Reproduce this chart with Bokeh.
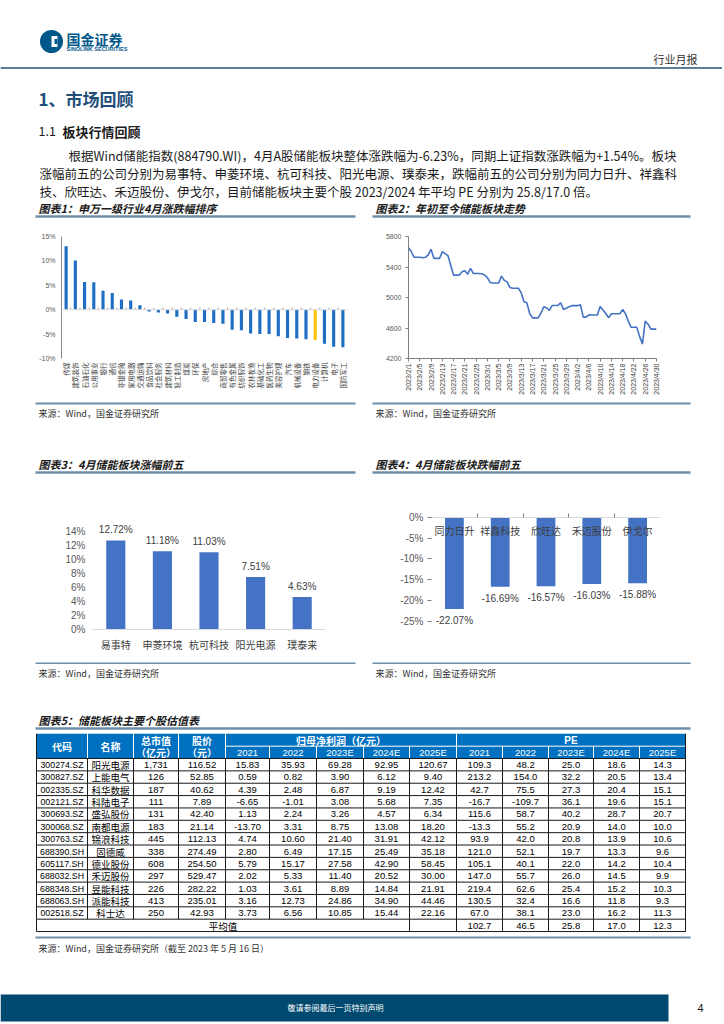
import math
import pandas as pd
from bokeh.plotting import figure
from bokeh.models import Range1d, FixedTicker, ColumnDataSource, Span
from bokeh.layouts import column, row
from bokeh.core.properties import value
from bokeh.embed import file_html
from bokeh.resources import INLINE

CJK = "Noto Sans CJK SC"
LAT = "Liberation Sans"

# ---------------- data ----------------
sw_industries = ["传媒", "建筑装饰", "石油石化", "公用事业", "银行", "通信", "非银金融", "家用电器",
                 "交通运输", "食品饮料", "社会服务", "建筑材料", "轻工制造", "煤炭", "环保", "房地产",
                 "综合", "商贸零售", "有色金属", "纺织服饰", "农林牧渔", "基础化工", "医药生物", "美容护理",
                 "汽车", "机械设备", "钢铁", "电力设备", "计算机", "电子", "国防军工"]
sw_returns = [13.0, 10.1, 5.7, 5.6, 3.9, 3.4, 2.1, 1.9, 0.9, -0.36, -0.55, -0.8, -1.45, -1.9, -2.5, -2.5,
              -2.7, -2.9, -4.1, -4.2, -4.9, -5.0, -5.0, -5.45, -5.8, -5.9, -6.05, -6.2, -7.0, -7.6, -7.7]
sw_highlight = "电力设备"

index_start = "2023-02-01"
index_end = "2023-04-30"
index_values = [5654, 5600, 5527, 5527, 5527, 5522, 5527, 5560, 5632, 5513, 5513, 5513, 5601, 5575, 5549,
                5420, 5293, 5293, 5293, 5337, 5350, 5306, 5381, 5315, 5315, 5315, 5312, 5295, 5260, 5196,
                5191, 5191, 5191, 5280, 5225, 5205, 5130, 5121, 5121, 5121, 5060, 4945, 4930, 4790, 4733,
                4733, 4733, 4795, 4878, 4865, 4830, 4896, 4896, 4896, 4931, 4843, 4860, 4880, 4893, 4893,
                4893, 4905, 4742, 4742, 4773, 4770, 4770, 4770, 4883, 4835, 4790, 4735, 4786, 4786, 4786,
                4786, 4843, 4785, 4690, 4609, 4609, 4609, 4490, 4389, 4690, 4650, 4585, 4585, 4585]
index_y_ticks = [4200, 4600, 5000, 5400, 5800]
date_tick_labels = ["2023/2/1", "2023/2/5", "2023/2/9", "2023/2/13", "2023/2/17", "2023/2/21", "2023/2/25",
                    "2023/3/1", "2023/3/5", "2023/3/9", "2023/3/13", "2023/3/17", "2023/3/21", "2023/3/25",
                    "2023/3/29", "2023/4/2", "2023/4/6", "2023/4/10", "2023/4/14", "2023/4/18", "2023/4/22",
                    "2023/4/26", "2023/4/30"]

top5_names = ["易事特", "申菱环境", "杭可科技", "阳光电源", "璞泰来"]
top5_pct = [12.72, 11.18, 11.03, 7.51, 4.63]
bottom5_names = ["同力日升", "祥鑫科技", "欣旺达", "禾迈股份", "伊戈尔"]
bottom5_pct = [-22.07, -16.69, -16.57, -16.03, -15.88]

codes = ["300274.SZ", "300827.SZ", "002335.SZ", "002121.SZ", "300693.SZ", "300068.SZ", "300763.SZ",
         "688390.SH", "605117.SH", "688032.SH", "688348.SH", "688063.SH", "002518.SZ"]
names = ["阳光电源", "上能电气", "科华数据", "科陆电子", "盛弘股份", "南都电源", "锦浪科技",
         "固德威", "德业股份", "禾迈股份", "昱能科技", "派能科技", "科士达"]
mkt_cap = ["1,731", "126", "187", "111", "131", "183", "445", "338", "608", "297", "226", "413", "250"]
price = ["116.52", "52.85", "40.62", "7.89", "42.40", "21.14", "112.13", "274.49", "254.50", "529.47",
         "282.22", "235.01", "42.93"]
np_2021 = ["15.83", "0.59", "4.39", "-6.65", "1.13", "-13.70", "4.74", "2.80", "5.79", "2.02", "1.03", "3.16", "3.73"]
np_2022 = ["35.93", "0.82", "2.48", "-1.01", "2.24", "3.31", "10.60", "6.49", "15.17", "5.33", "3.61", "12.73", "6.56"]
np_2023e = ["69.28", "3.90", "6.87", "3.08", "3.26", "8.75", "21.40", "17.15", "27.58", "11.40", "8.89", "24.86", "10.85"]
np_2024e = ["92.95", "6.12", "9.19", "5.68", "4.57", "13.08", "31.91", "25.49", "42.90", "20.52", "14.84", "34.90", "15.44"]
np_2025e = ["120.67", "9.40", "12.42", "7.35", "6.34", "18.20", "42.12", "35.18", "58.45", "30.00", "21.91", "44.46", "22.16"]
pe_2021 = ["109.3", "213.2", "42.7", "-16.7", "115.6", "-13.3", "93.9", "121.0", "105.1", "147.0", "219.4", "130.5", "67.0"]
pe_2022 = ["48.2", "154.0", "75.5", "-109.7", "58.7", "55.2", "42.0", "52.1", "40.1", "55.7", "62.6", "32.4", "38.1"]
pe_2023e = ["25.0", "32.2", "27.3", "36.1", "40.2", "20.9", "20.8", "19.7", "22.0", "26.0", "25.4", "16.6", "23.0"]
pe_2024e = ["18.6", "20.5", "20.4", "19.6", "28.7", "14.0", "13.9", "13.3", "14.2", "14.5", "15.2", "11.8", "16.2"]
pe_2025e = ["14.3", "13.4", "15.1", "15.1", "20.7", "10.0", "10.6", "9.6", "10.4", "9.9", "10.3", "9.3", "11.3"]
pe_average = ["102.7", "46.5", "25.8", "17.0", "12.3"]
year_labels = ["2021", "2022", "2023E", "2024E", "2025E"]

# ---------------- helpers ----------------
BLUE_LINE = "#6F8FA8"
PAGE_W = 722


def strip(y0, y1):
    p = figure(width=PAGE_W, height=y1 - y0, x_range=Range1d(0, PAGE_W), y_range=Range1d(y1, y0),
               x_axis_type=None, y_axis_type=None, toolbar_location=None, output_backend="svg",
               min_border=0)
    p.outline_line_color = None
    p.background_fill_color = "white"
    p.border_fill_color = "white"
    return p


def txt(p, x, y, s, size, color="#1a1a1a", font=CJK, align="left", baseline="middle", style="normal"):
    p.text(x=[x], y=[y], text=[s], text_font=value(font), text_font_size=size, text_color=color,
           text_align=align, text_baseline=baseline, text_font_style=style)


def hline(p, x0, x1, y, color=BLUE_LINE, width=2.0):
    p.line(x=[x0, x1], y=[y, y], line_color=color, line_width=width)


def chart_fig(w, h, xr, yr, l, r, t, b, **kw):
    p = figure(width=w, height=h, x_range=xr, y_range=yr, toolbar_location=None, output_backend="svg",
               min_border_left=l, min_border_right=r, min_border_top=t, min_border_bottom=b, **kw)
    p.outline_line_color = None
    p.xgrid.visible = False
    p.ygrid.visible = False
    p.axis.minor_tick_line_color = None
    p.axis.minor_tick_out = 0
    p.axis.minor_tick_in = 0
    return p


# ---------------- strip 1: header ----------------
s1 = strip(0, 222)
s1.scatter(x=[51], y=[41], size=23, fill_color="#00578A", line_color=None)
s1.rect(x=[54], y=[41], width=6, height=11, fill_color="white", line_color=None)
s1.rect(x=[55.5], y=[41], width=3, height=5, fill_color="#00578A", line_color=None)
txt(s1, 66, 38, "国金证券", "14px", color="#00578A", style="bold")
txt(s1, 66, 48.5, "SINOLINK SECURITIES", "5.5px", color="#00578A", font=LAT, style="bold")
txt(s1, 697, 58, "行业月报", "11px", color="#333333", align="right")
hline(s1, 0, PAGE_W, 67.5, color="#5B7D96", width=2)
txt(s1, 38, 98, "1、市场回顾", "17px", color="#1F4E79", style="bold")
txt(s1, 38, 130.5, "1.1", "12.5px", color="#1a1a1a")
txt(s1, 62, 130.5, "板块行情回顾", "13px", color="#1a1a1a", style="bold")
txt(s1, 68, 155, "根据Wind储能指数(884790.WI)，4月A股储能板块整体涨跌幅为-6.23%，同期上证指数涨跌幅为+1.54%。板块", "12.5px")
txt(s1, 39, 173, "涨幅前五的公司分别为易事特、申菱环境、杭可科技、阳光电源、璞泰来，跌幅前五的公司分别为同力日升、祥鑫科", "12.5px")
txt(s1, 39, 191, "技、欣旺达、禾迈股份、伊戈尔，目前储能板块主要个股 2023/2024 年平均 PE 分别为 25.8/17.0 倍。", "12.5px")
txt(s1, 38, 207, "图表1：申万一级行业4月涨跌幅排序", "11px", style="bold italic")
txt(s1, 375, 207, "图表2：年初至今储能板块走势", "11px", style="bold italic")
hline(s1, 35, 355, 216, width=2.5)
hline(s1, 372, 690, 216, width=2.5)

# ---------------- chart 1 ----------------
c1 = chart_fig(362, 178, Range1d(-0.5, len(sw_industries) - 0.5), Range1d(-10, 15), 61, 15, 6, 34)
idx = list(range(len(sw_industries)))
bar_colors = ["#FFC000" if n == sw_highlight else "#1E6FC4" for n in sw_industries]
c1.vbar(x="x", top="top", bottom=0, width=0.34, fill_color="c", line_color=None,
        source=ColumnDataSource(dict(x=idx, top=sw_returns, c=bar_colors)))
c1.add_layout(Span(location=0, dimension="width", line_color="#D9D9D9", line_width=1))
bounds = [i + 0.5 for i in idx[:-1]]
c1.segment(x0=bounds, y0=[0] * len(bounds), x1=bounds, y1=[0.45] * len(bounds), line_color="#A6A6A6", line_width=1)
c1.xaxis.ticker = FixedTicker(ticks=idx)
c1.xaxis.major_label_overrides = {i: n for i, n in enumerate(sw_industries)}
c1.xaxis.major_label_orientation = math.pi / 2
c1.xaxis.axis_line_color = None
c1.xaxis.major_tick_line_color = None
c1.xaxis.major_tick_out = 0
c1.xaxis.major_tick_in = 0
c1.xaxis.major_label_standoff = 4
c1.xaxis.major_label_text_font = CJK
c1.xaxis.major_label_text_font_size = "6.5px"
c1.xaxis.major_label_text_color = "#404040"
c1.yaxis.ticker = FixedTicker(ticks=[-10, -5, 0, 5, 10, 15])
c1.yaxis.major_label_overrides = {v: f"{v}%" for v in [-10, -5, 0, 5, 10, 15]}
c1.yaxis.axis_line_color = "#8C8C8C"
c1.yaxis.major_tick_line_color = None
c1.yaxis.major_tick_out = 0
c1.yaxis.major_tick_in = 0
c1.yaxis.major_label_standoff = 6
c1.yaxis.major_label_text_font = LAT
c1.yaxis.major_label_text_font_size = "7px"
c1.yaxis.major_label_text_color = "#595959"

# ---------------- chart 2 ----------------
dates = pd.date_range(index_start, index_end, freq="D")
day_offset = [(d - dates[0]).days for d in dates]
c2 = chart_fig(360, 178, Range1d(0, day_offset[-1]), Range1d(index_y_ticks[0], index_y_ticks[-1]), 46, 66, 14, 42)
c2.line(x=day_offset, y=index_values, line_color="#4472C4", line_width=1.6)
tick_days = day_offset[::4]
c2.xaxis.ticker = FixedTicker(ticks=tick_days)
c2.xaxis.major_label_overrides = {d: lab for d, lab in zip(tick_days, date_tick_labels)}
c2.xaxis.major_label_orientation = math.pi / 2
c2.xaxis.axis_line_color = "#7F7F7F"
c2.xaxis.major_tick_line_color = "#7F7F7F"
c2.xaxis.major_tick_in = 0
c2.xaxis.major_tick_out = 3
c2.xaxis.major_label_standoff = 2
c2.xaxis.major_label_text_font = LAT
c2.xaxis.major_label_text_font_size = "7px"
c2.xaxis.major_label_text_color = "#404040"
c2.yaxis.ticker = FixedTicker(ticks=index_y_ticks)
c2.yaxis.axis_line_color = "#7F7F7F"
c2.yaxis.major_tick_line_color = "#7F7F7F"
c2.yaxis.major_tick_in = 0
c2.yaxis.major_tick_out = 3
c2.yaxis.major_label_standoff = 4
c2.yaxis.major_label_text_font = LAT
c2.yaxis.major_label_text_font_size = "7px"
c2.yaxis.major_label_text_color = "#595959"

# ---------------- strip 2 ----------------
s2 = strip(400, 480)
hline(s2, 35, 355, 403, width=2)
hline(s2, 372, 690, 403, width=2)
txt(s2, 38, 413, "来源：Wind，国金证券研究所", "9px", color="#333333")
txt(s2, 375, 413, "来源：Wind，国金证券研究所", "9px", color="#333333")
txt(s2, 38, 463, "图表3：4月储能板块涨幅前五", "11px", style="bold italic")
txt(s2, 375, 463, "图表4：4月储能板块跌幅前五", "11px", style="bold italic")
hline(s2, 35, 355, 472, width=2.5)
hline(s2, 372, 690, 472, width=2.5)

# ---------------- chart 3 ----------------
x5 = list(range(len(top5_names)))
c3 = chart_fig(362, 182, Range1d(-0.5, 4.5), Range1d(0, 16), 92, 37, 22, 33)
c3.vbar(x=x5, top=top5_pct, bottom=0, width=0.41, fill_color="#4472C4", line_color=None)
c3.text(x=x5, y=top5_pct, text=[f"{v:.2f}%" for v in top5_pct], text_font=value(LAT), text_font_size="10px",
        text_color="#404040", text_align="center", text_baseline="bottom", y_offset=-5)
c3.xaxis.ticker = FixedTicker(ticks=x5)
c3.xaxis.major_label_overrides = {i: n for i, n in enumerate(top5_names)}
c3.xaxis.axis_line_color = "#D9D9D9"
c3.xaxis.major_tick_line_color = None
c3.xaxis.major_tick_out = 0
c3.xaxis.major_tick_in = 0
c3.xaxis.major_label_standoff = 7
c3.xaxis.major_label_text_font = CJK
c3.xaxis.major_label_text_font_size = "10px"
c3.xaxis.major_label_text_color = "#404040"
t3 = list(range(0, 15, 2))
c3.yaxis.ticker = FixedTicker(ticks=t3)
c3.yaxis.major_label_overrides = {v: f"{v}%" for v in t3}
c3.yaxis.axis_line_color = None
c3.yaxis.major_tick_line_color = None
c3.yaxis.major_tick_out = 0
c3.yaxis.major_tick_in = 0
c3.yaxis.major_label_standoff = 7
c3.yaxis.major_label_text_font = LAT
c3.yaxis.major_label_text_font_size = "10px"
c3.yaxis.major_label_text_color = "#595959"

# ---------------- chart 4 ----------------
c4 = chart_fig(360, 182, Range1d(-0.5, 4.5), Range1d(-27, 0), 69, 62, 37, 21, x_axis_location="above")
c4.vbar(x=x5, top=0, bottom=bottom5_pct, width=0.41, fill_color="#4472C4", line_color=None)
c4.text(x=x5, y=[0] * len(x5), text=bottom5_names, text_font=value(CJK), text_font_size="10px",
        text_color="#404040", text_align="center", text_baseline="middle", y_offset=13)
c4.text(x=x5, y=bottom5_pct, text=[f"{v:.2f}%" for v in bottom5_pct], text_font=value(LAT), text_font_size="10px",
        text_color="#404040", text_align="center", text_baseline="top", y_offset=6)
c4.xaxis.ticker = FixedTicker(ticks=[i + 0.5 for i in x5[:-1]])
c4.xaxis.major_label_text_font_size = "0px"
c4.xaxis.axis_line_color = "#D9D9D9"
c4.xaxis.major_tick_line_color = "#7F7F7F"
c4.xaxis.major_tick_in = 0
c4.xaxis.major_tick_out = 4
t4 = list(range(-25, 1, 5))
c4.yaxis.ticker = FixedTicker(ticks=t4)
c4.yaxis.major_label_overrides = {v: f"{v}%" for v in t4}
c4.yaxis.axis_line_color = None
c4.yaxis.major_tick_line_color = "#7F7F7F"
c4.yaxis.major_tick_in = 0
c4.yaxis.major_tick_out = 4
c4.yaxis.major_label_standoff = 4
c4.yaxis.major_label_text_font = LAT
c4.yaxis.major_label_text_font_size = "10px"
c4.yaxis.major_label_text_color = "#595959"

# ---------------- strip 3 ----------------
s3 = strip(480 + 182, 733)
hline(s3, 35, 355, 662.5, width=2)
hline(s3, 372, 690, 662.5, width=2)
txt(s3, 38, 673, "来源：Wind，国金证券研究所", "9px", color="#333333")
txt(s3, 375, 673, "来源：Wind，国金证券研究所", "9px", color="#333333")
txt(s3, 38, 719, "图表5：储能板块主要个股估值表", "11px", style="bold italic")
hline(s3, 35, 690, 728, width=2.5)

# ---------------- table ----------------
tb = strip(733, 1022)
col_edges = [36, 87, 133, 178, 225, 269, 316, 363, 409, 456, 502, 548, 593, 639, 685]
centers = [(a + b) / 2 for a, b in zip(col_edges[:-1], col_edges[1:])]
hdr_top, hdr_mid, hdr_bot = 733, 745.7, 758
row_h = 12.36
table_cols = [codes, names, mkt_cap, price, np_2021, np_2022, np_2023e, np_2024e, np_2025e,
              pe_2021, pe_2022, pe_2023e, pe_2024e, pe_2025e]
n_rows = len(codes)

tb.quad(left=[col_edges[0]], right=[col_edges[-1]], top=[hdr_top], bottom=[hdr_bot],
        fill_color="#0070C0", line_color=None)
full_seps = [87, 133, 178, 225, 456]
half_seps = [269, 316, 363, 409, 502, 548, 593, 639]
tb.segment(x0=full_seps, y0=[hdr_top] * len(full_seps), x1=full_seps, y1=[hdr_bot] * len(full_seps),
           line_color="white", line_width=1)
tb.segment(x0=half_seps, y0=[hdr_mid] * len(half_seps), x1=half_seps, y1=[hdr_bot] * len(half_seps),
           line_color="white", line_width=1)
tb.segment(x0=[225], y0=[hdr_mid], x1=[685], y1=[hdr_mid], line_color="white", line_width=1)

hdr_y1 = (hdr_top + hdr_mid) / 2 + 0.5
hdr_y2 = (hdr_mid + hdr_bot) / 2 + 0.3
txt(tb, centers[0], (hdr_top + hdr_bot) / 2, "代码", "10px", color="white", align="center", style="bold")
txt(tb, centers[1], (hdr_top + hdr_bot) / 2, "名称", "10px", color="white", align="center", style="bold")
txt(tb, centers[2], hdr_y1, "总市值", "10px", color="white", align="center", style="bold")
txt(tb, centers[2], hdr_y2, "（亿元）", "10px", color="white", align="center", style="bold")
txt(tb, centers[3], hdr_y1, "股价", "10px", color="white", align="center", style="bold")
txt(tb, centers[3], hdr_y2, "（元）", "10px", color="white", align="center", style="bold")
txt(tb, (225 + 456) / 2, hdr_y1, "归母净利润（亿元）", "10px", color="white", align="center", style="bold")
txt(tb, (456 + 685) / 2, hdr_y1, "PE", "10px", color="white", align="center", font=LAT, style="bold")
tb.text(x=centers[4:], y=[hdr_y2] * 10, text=year_labels * 2, text_font=value(LAT), text_font_size="9.5px",
        text_color="white", text_align="center", text_baseline="middle")

cx, cy, ct, cf, cs = [], [], [], [], []
for j, col in enumerate(table_cols):
    for i, v in enumerate(col):
        cx.append(centers[j])
        cy.append(hdr_bot + (i + 0.5) * row_h + 0.3)
        ct.append(v)
        cf.append(CJK if j == 1 else LAT)
        cs.append("8.8px" if j == 0 else "9.5px")
tb.text(x="x", y="y", text="t", text_font="f", text_font_size="s", text_color="#000000",
        text_align="center", text_baseline="middle",
        source=ColumnDataSource(dict(x=cx, y=cy, t=ct, f=cf, s=cs)))
avg_y = hdr_bot + (n_rows + 0.5) * row_h + 0.3
txt(tb, (36 + 409) / 2, avg_y, "平均值", "9.5px", color="#000000", align="center")
tb.text(x=centers[9:], y=[avg_y] * 5, text=pe_average, text_font=value(LAT), text_font_size="9.5px",
        text_color="#000000", text_align="center", text_baseline="middle")

h_ys = [hdr_bot + k * row_h for k in range(n_rows + 2)]
tb.segment(x0=[36] * len(h_ys), y0=h_ys, x1=[685] * len(h_ys), y1=h_ys, line_color="#1a1a1a", line_width=1)
data_bot = hdr_bot + n_rows * row_h
tb.segment(x0=col_edges, y0=[hdr_bot] * len(col_edges), x1=col_edges, y1=[data_bot] * len(col_edges),
           line_color="#1a1a1a", line_width=1)
avg_edges = [36, 409, 456, 502, 548, 593, 639, 685]
tb.segment(x0=avg_edges, y0=[data_bot] * len(avg_edges), x1=avg_edges, y1=[data_bot + row_h] * len(avg_edges),
           line_color="#1a1a1a", line_width=1)
tb.segment(x0=[36, 685], y0=[hdr_top, hdr_top], x1=[36, 685], y1=[hdr_bot, hdr_bot], line_color="#1a1a1a", line_width=1)

hline(tb, 35, 690, 937, width=2)
txt(tb, 38, 948, "来源：Wind，国金证券研究所（截至 2023 年 5 月 16 日）", "9px", color="#333333")

tb.quad(left=[0], right=[668], top=[994], bottom=[1021], fill_color="#00496F", line_color=None)
txt(tb, 335, 1007, "敬请参阅最后一页特别声明", "8px", color="white", align="center")
txt(tb, 700, 1007, "4", "11px", color="#1a1a1a", align="center", font=LAT)

layout = column(s1, row(c1, c2), s2, row(c3, c4), s3, tb)
open("out.html", "w").write(file_html(layout, INLINE))
